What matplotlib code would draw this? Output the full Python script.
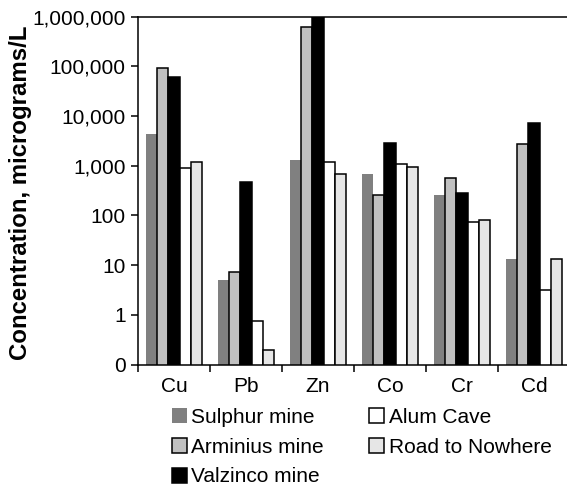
import matplotlib
matplotlib.use('Agg')
import matplotlib.pyplot as plt
import numpy as np
from matplotlib.ticker import FixedLocator, FuncFormatter

plt.rcParams['font.family'] = ['Liberation Sans', 'DejaVu Sans']

metals = ["Cu", "Pb", "Zn", "Co", "Cr", "Cd"]

sulphur = [4400, 5.0, 1300, 670, 260, 13]
arminius = [91000, 7.3, 620000, 257, 570, 2700]
valzinco = [61000, 475, 1000000, 2800, 277, 7100]
alum_cave = [910, 0.76, 1200, 1100, 75, 3.2]
road = [1200, 0.2, 680, 950, 79, 13]

x = np.arange(len(metals))
w = 0.153

fig = plt.figure(figsize=(5.67, 4.86), dpi=100)
ax = fig.add_axes([0.2434, 0.25, 0.7619, 0.716])

ax.bar(x - 2*w, sulphur, w, label='Sulphur mine', color='#808080', lw=0)
ax.bar(x - w, arminius, w, label='Arminius mine', color='#c0c0c0', edgecolor='black', lw=1.1)
ax.bar(x, valzinco, w, label='Valzinco mine', color='black', edgecolor='black', lw=1.1)
ax.bar(x + w, alum_cave, w, label='Alum Cave', color='white', edgecolor='black', lw=1.1)
ax.bar(x + 2*w, road, w, label='Road to Nowhere', color='#e6e6e6', edgecolor='black', lw=1.1)

ax.set_yscale('log')
ax.set_ylim(0.1, 1e6)
ax.set_xlim(-0.5, len(metals) - 0.5)
ax.yaxis.set_major_locator(FixedLocator([10.0**k for k in range(-1, 7)]))
ax.yaxis.set_minor_locator(FixedLocator([]))
ax.yaxis.set_major_formatter(FuncFormatter(lambda v, p: f"{v:,.0f}"))

# category boundaries get the ticks, labels sit in the middle
ax.set_xticks(np.arange(len(metals) + 1) - 0.5)
ax.set_xticklabels([])
ax.set_xticks(x, minor=True)
ax.set_xticklabels(metals, minor=True)
ax.tick_params(axis='x', which='major', direction='out', length=5, width=1.1)
ax.tick_params(axis='x', which='minor', length=0, pad=9, labelsize=15)
ax.tick_params(axis='y', direction='out', length=5, width=1.1, pad=4, labelsize=15)

for s in ax.spines.values():
    s.set_linewidth(1.1)

ax.set_ylabel('Concentration, micrograms/L', fontsize=17.3, fontweight='bold', va='center')
ax.yaxis.set_label_coords(-0.272, 0.494)

fig.legend(loc='upper left', bbox_to_anchor=(0.303, 0.161), ncol=2, frameon=False,
           fontsize=15, borderpad=0, borderaxespad=0, handlelength=0.72, handleheight=0.72,
           handletextpad=0.2, labelspacing=0.52, columnspacing=2.2)

fig.savefig('out.png', dpi=100)
